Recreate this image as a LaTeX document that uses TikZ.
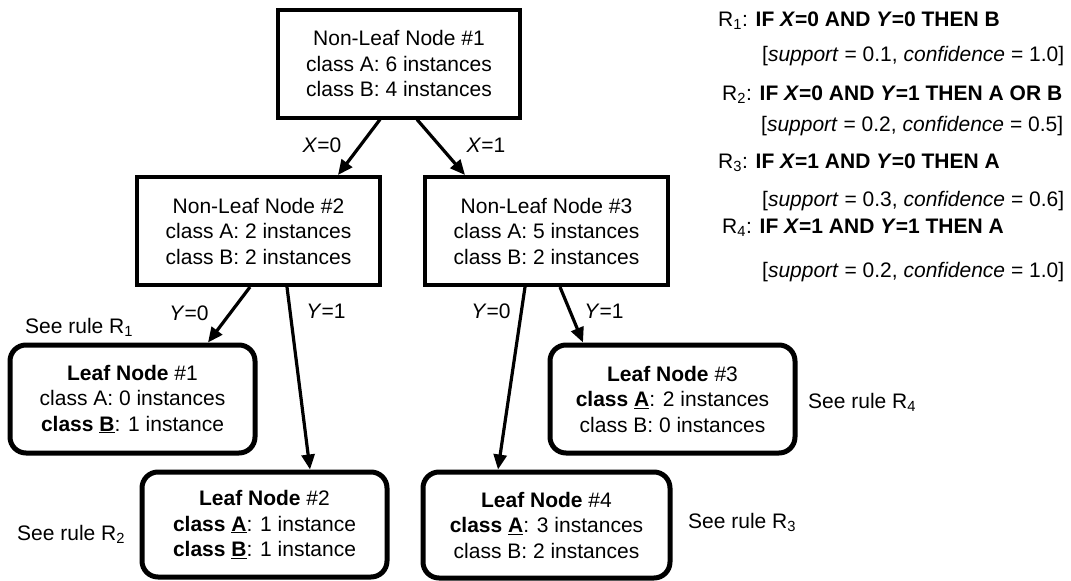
\documentclass[tikz,border=0pt]{standalone}
\usepackage{fontspec}
\setmainfont{Liberation Sans}
\usetikzlibrary{arrows.meta}

\tikzset{
  txt/.style={font=\fontsize{21}{25.5}\selectfont, inner sep=0pt},
  inner/.style={txt, draw, line width=4pt, align=center,
    minimum width=#1, minimum height=108pt},
  inner/.default=243pt,
  leaf/.style={txt, draw, line width=5pt, rounded corners=16pt, align=center,
    minimum width=245pt, minimum height=108pt},
  arr/.style={line width=3.2pt, -{Triangle[length=15pt,width=13pt]}},
  lbl/.style={txt, anchor=base},
  note/.style={txt, anchor=base west},
}
\newcommand{\ul}[1]{\underline{#1}}

\begin{document}
\begin{tikzpicture}[x=1pt, y=-1pt]
\useasboundingbox (0,0) rectangle (1071,581);

% tree nodes
\node[inner=242pt] (root) at (399,63.5)
  {Non-Leaf Node \#1\\class A: 6 instances\\class B: 4 instances};
\node[inner] (n2) at (258.5,231)
  {Non-Leaf Node \#2\\class A: 2 instances\\class B: 2 instances};
\node[inner] (n3) at (546.5,231)
  {Non-Leaf Node \#3\\class A: 5 instances\\class B: 2 instances};

\node[leaf] (l1) at (132.5,399)
  {\textbf{Leaf Node} \#1\\class A: 0 instances\\\textbf{class \ul{B}}: 1 instance};
\node[leaf, minimum height=105pt] (l2) at (264.5,524.5)
  {\textbf{Leaf Node} \#2\\\textbf{class \ul{A}}: 1 instance\\\textbf{class \ul{B}}: 1 instance};
\node[leaf] (l3) at (672.5,399)
  {\textbf{Leaf Node} \#3\\\textbf{class \ul{A}}: 2 instances\\class B: 0 instances};
\node[leaf, minimum width=247pt, minimum height=106pt] (l4) at (546.5,525)
  {\textbf{Leaf Node} \#4\\\textbf{class \ul{A}}: 3 instances\\class B: 2 instances};

% branches
\draw[arr] (root.south -| 380,0) -- (n2.north -| 338,0);
\draw[arr] (root.south -| 417,0) -- (n3.north -| 465,0);
\draw[arr] (n2.south -| 250,0) -- (l1.north -| 208,0);
\draw[arr] (n2.south -| 287,0) -- (l2.north -| 310,0);
\draw[arr] (n3.south -| 525,0) -- (l4.north -| 498,0);
\draw[arr] (n3.south -| 560,0) -- (l3.north -| 583,0);

% branch labels
\node[lbl] (x0) at (322,152) {\textit{X}=0};
\node[lbl] (x1) at (486,152) {\textit{X}=1};
\node[lbl] (y0a) at (189,320) {\textit{Y}=0};
\node[lbl] (y1a) at (326,318) {\textit{Y}=1};
\node[lbl] (y0b) at (491,318) {\textit{Y}=0};
\node[lbl] (y1b) at (604,318) {\textit{Y}=1};

% rule references
\node[note] (s1) at (25,333) {See rule R\textsubscript{1}};
\node[note] (s2) at (17,540) {See rule R\textsubscript{2}};
\node[note] (s3) at (688,528) {See rule R\textsubscript{3}};
\node[note] (s4) at (808,408) {See rule R\textsubscript{4}};

% rule list
\node[note] (r1) at (718,26)
  {R\textsubscript{1}: \textbf{IF \textit{X}=0 AND \textit{Y}=0 THEN B}};
\node[note] (r1s) at (762,61)
  {[\textit{support} = 0.1, \textit{confidence} = 1.0]};
\node[note] (r2) at (722,100)
  {R\textsubscript{2}: \textbf{IF \textit{X}=0 AND \textit{Y}=1 THEN A OR B}};
\node[note] (r2s) at (761,131)
  {[\textit{support} = 0.2, \textit{confidence} = 0.5]};
\node[note] (r3) at (718,168)
  {R\textsubscript{3}: \textbf{IF \textit{X}=1 AND \textit{Y}=0 THEN A}};
\node[note] (r3s) at (762,206)
  {[\textit{support} = 0.3, \textit{confidence} = 0.6]};
\node[note] (r4) at (722,233)
  {R\textsubscript{4}: \textbf{IF \textit{X}=1 AND \textit{Y}=1 THEN A}};
\node[note] (r4s) at (762,277)
  {[\textit{support} = 0.2, \textit{confidence} = 1.0]};
\end{tikzpicture}
\end{document}
